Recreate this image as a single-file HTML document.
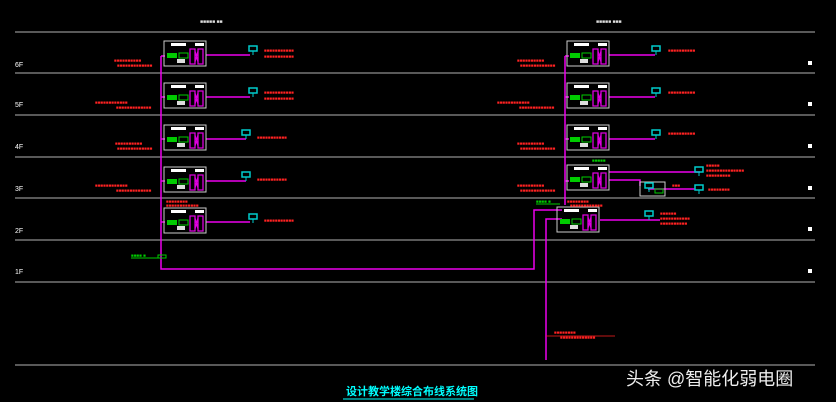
<!DOCTYPE html>
<html><head><meta charset="utf-8"><style>
html,body{margin:0;padding:0;background:#000;width:836px;height:402px;overflow:hidden}
svg{display:block}
text{font-family:"Liberation Sans","Noto Sans CJK SC",sans-serif}
</style></head><body>
<svg width="836" height="402" viewBox="0 0 836 402" xmlns="http://www.w3.org/2000/svg">
<defs>
<g id="box">
 <rect x="0" y="0" width="42" height="25" fill="none" stroke="#ccc" stroke-width="1"/>
 <rect x="7" y="2" width="15" height="3" fill="#fff"/>
 <rect x="31" y="2" width="9" height="3" fill="#fff"/>
 <rect x="3" y="12" width="10" height="5" fill="#0c0"/>
 <rect x="15" y="12" width="9" height="5" fill="none" stroke="#0c0"/>
 <rect x="13" y="18" width="8" height="4" fill="#ddd"/>
 <path d="M26 8h5v15h-5z M34 8h5v15h-5z M31 10l3 11 M34 10l-3 11" fill="none" stroke="#d0d" stroke-width="1.3"/>
</g>
<g id="out">
 <path d="M0 0h8v5h-8z" fill="none" stroke="#0cc" stroke-width="1.5"/>
 <path d="M4 5v4" stroke="#0cc"/>
</g>
</defs>
<g stroke="#777" stroke-width="1.5">
 <line x1="15" y1="32" x2="815" y2="32"/>
 <line x1="15" y1="73" x2="815" y2="73"/>
 <line x1="15" y1="115" x2="815" y2="115"/>
 <line x1="15" y1="157" x2="815" y2="157"/>
 <line x1="15" y1="198" x2="815" y2="198"/>
 <line x1="15" y1="240" x2="815" y2="240"/>
 <line x1="15" y1="282" x2="815" y2="282"/>
 <line x1="15" y1="365" x2="815" y2="365"/>
</g>
<g fill="#fff" font-size="7">
 <text x="15" y="67">6F</text><text x="15" y="107">5F</text><text x="15" y="149">4F</text>
 <text x="15" y="191">3F</text><text x="15" y="233">2F</text><text x="15" y="274">1F</text>
</g>
<g fill="#fff">
 <rect x="808" y="61" width="4" height="4"/><rect x="808" y="102" width="4" height="4"/>
 <rect x="808" y="144" width="4" height="4"/><rect x="808" y="186" width="4" height="4"/>
 <rect x="808" y="227" width="4" height="4"/><rect x="808" y="269" width="4" height="4"/>
</g>
<text x="200" y="23" fill="#ddd" font-size="5">■■■■■ ■■</text>
<text x="596" y="23" fill="#ddd" font-size="5">■■■■■ ■■■</text>
<!-- backbone -->
<g stroke="#e0e" stroke-width="1.5" fill="none">
 <path d="M161 56V269H534V210H562"/>
 <path d="M546 360V219H562"/>
 <path d="M565 56V205"/>
 <path d="M161 56h4 M161 97h4 M161 139h4 M161 181h4 M161 222h4"/>
 <path d="M565 56h4 M565 97h4 M565 139h4 M565 181h4"/>
 <path d="M206 55H250 M206 97H250 M206 139H246 M206 181H246 M206 222H250"/>
 <path d="M609 55H655 M609 97H655 M609 139H655 M609 172H700 M600 220H660 M648 189H695 M609 180H640V186"/>
</g>
<!-- left boxes -->
<use href="#box" x="164" y="41"/><use href="#box" x="164" y="83"/><use href="#box" x="164" y="125"/>
<use href="#box" x="164" y="167"/><use href="#box" x="164" y="208"/>
<use href="#box" x="567" y="41"/><use href="#box" x="567" y="83"/><use href="#box" x="567" y="125"/>
<use href="#box" x="567" y="165"/><use href="#box" x="557" y="207"/>
<rect x="640" y="182" width="25" height="14" fill="none" stroke="#ccc"/>
<rect x="655" y="189" width="8" height="4" fill="none" stroke="#0c0"/>
<!-- outlets -->
<use href="#out" x="249" y="46"/><use href="#out" x="249" y="88"/><use href="#out" x="242" y="130"/>
<use href="#out" x="242" y="172"/><use href="#out" x="249" y="214"/>
<use href="#out" x="652" y="46"/><use href="#out" x="652" y="88"/><use href="#out" x="652" y="130"/>
<use href="#out" x="695" y="167"/><use href="#out" x="695" y="185"/><use href="#out" x="645" y="183"/><use href="#out" x="645" y="211"/>
<!-- red labels -->
<g fill="#f22" font-size="4.5">
 <text x="114" y="62">■■■■■■■■■■</text><text x="117" y="67">■■■■■■■■■■■■■</text>
 <text x="95" y="104">■■■■■■■■■■■■</text><text x="116" y="109">■■■■■■■■■■■■■</text>
 <text x="115" y="145">■■■■■■■■■■</text><text x="117" y="150">■■■■■■■■■■■■■</text>
 <text x="95" y="187">■■■■■■■■■■■■</text><text x="116" y="192">■■■■■■■■■■■■■</text>
 <text x="166" y="203">■■■■■■■■</text><text x="166" y="207">■■■■■■■■■■■■</text>
 <text x="264" y="52">■■■■■■■■■■■</text><text x="264" y="58">■■■■■■■■■■■</text>
 <text x="264" y="94">■■■■■■■■■■■</text><text x="264" y="100">■■■■■■■■■■■</text>
 <text x="257" y="139">■■■■■■■■■■■</text><text x="257" y="181">■■■■■■■■■■■</text>
 <text x="264" y="222">■■■■■■■■■■■</text>
 <text x="517" y="62">■■■■■■■■■■</text><text x="520" y="67">■■■■■■■■■■■■■</text>
 <text x="497" y="104">■■■■■■■■■■■■</text><text x="519" y="109">■■■■■■■■■■■■■</text>
 <text x="517" y="145">■■■■■■■■■■</text><text x="520" y="150">■■■■■■■■■■■■■</text>
 <text x="517" y="187">■■■■■■■■■■</text><text x="520" y="192">■■■■■■■■■■■■■</text>
 <text x="567" y="203">■■■■■■■■</text><text x="570" y="207">■■■■■■■■■■■■</text>
 <text x="668" y="52">■■■■■■■■■■</text><text x="668" y="94">■■■■■■■■■■</text><text x="668" y="135">■■■■■■■■■■</text>
 <text x="706" y="167">■■■■■</text><text x="706" y="172">■■■■■■■■■■■■■■</text><text x="706" y="177">■■■■■■■■■</text>
 <text x="708" y="191">■■■■■■■■</text><text x="672" y="187">■■■</text>
 <text x="660" y="215">■■■■■■</text><text x="660" y="220">■■■■■■■■■■■</text><text x="660" y="225">■■■■■■■■■■</text>
 <text x="554" y="334">■■■■■■■■</text><text x="560" y="339">■■■■■■■■■■■■■</text>
</g>
<g stroke="#f22" stroke-width="0.8"><path d="M546 336H615"/></g>
<g fill="#0c0" font-size="4.5"><text x="131" y="257">■■■■ ■</text><text x="536" y="203">■■■■ ■</text><text x="592" y="162">■■■■■</text></g>
<path d="M131 258H158" stroke="#0c0"/><rect x="158" y="255" width="8" height="3" fill="none" stroke="#0c0"/>
<path d="M536 204H560" stroke="#0c0"/>
<text x="346" y="395" fill="#0ff" font-size="11" font-weight="bold" font-family="Liberation Sans,Noto Sans CJK SC,sans-serif">设计教学楼综合布线系统图</text>
<line x1="343" y1="399" x2="474" y2="399" stroke="#0ff" stroke-width="1"/>
<text x="626" y="385" fill="#eee" font-size="18" font-family="Liberation Sans,Noto Sans CJK SC,sans-serif">头条 @智能化弱电圈</text>
</svg>
</body></html>
